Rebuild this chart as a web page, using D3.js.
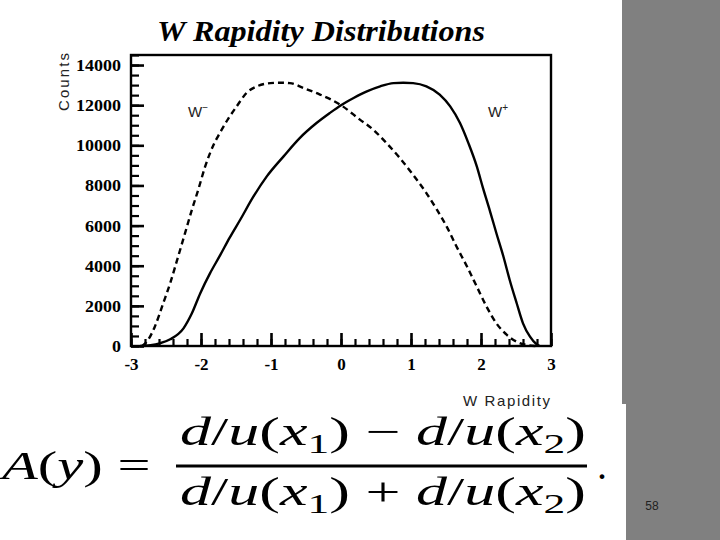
<!DOCTYPE html>
<html>
<head>
<meta charset="utf-8">
<script src="https://cdn.jsdelivr.net/npm/d3@7"></script>
<style>
  html, body { margin: 0; padding: 0; background: #fff; }
  svg { display: block; }
</style>
</head>
<body>
<svg id="chart" width="720" height="540"></svg>
<script>
// ---- data ----
const chartTitle = "W Rapidity Distributions";
const xTickValues = [-3, -2, -1, 0, 1, 2, 3];
const yTickValues = [0, 2000, 4000, 6000, 8000, 10000, 12000, 14000];

// W- (dashed)
const wMinusRapidity = [-2.84, -2.75, -2.66, -2.54, -2.44, -2.35, -2.23, -2.13, -2.04, -1.94, -1.82, -1.73, -1.61, -1.49, -1.35, -1.20, -1.01, -0.87, -0.73, -0.54, -0.30, 0.0, 0.27, 0.46, 0.65, 0.84, 1.03, 1.22, 1.37, 1.51, 1.65, 1.80, 1.94, 2.08, 2.22, 2.37, 2.51, 2.65, 2.79];
const wMinusCounts   = [0, 334, 963, 2130, 3130, 4180, 5600, 6790, 7780, 8950, 10030, 10620, 11330, 11940, 12610, 12940, 13100, 13120, 13100, 12860, 12530, 12000, 11280, 10780, 10110, 9370, 8530, 7620, 6790, 5950, 4960, 3960, 2960, 1960, 1130, 550, 210, 50, 0];

// W+ (solid)
const wPlusRapidity = [-2.87, -2.72, -2.59, -2.44, -2.25, -2.13, -2.01, -1.87, -1.73, -1.59, -1.44, -1.25, -1.06, -0.82, -0.59, -0.35, -0.16, 0.0, 0.18, 0.37, 0.56, 0.75, 0.89, 1.03, 1.22, 1.41, 1.56, 1.70, 1.82, 1.94, 2.03, 2.13, 2.22, 2.32, 2.41, 2.51, 2.60, 2.70, 2.79, 2.84];
const wPlusCounts   = [0, 40, 133, 333, 880, 1630, 2630, 3630, 4500, 5400, 6290, 7450, 8450, 9450, 10360, 11110, 11610, 12000, 12360, 12690, 12940, 13100, 13120, 13100, 12940, 12530, 11940, 11110, 10110, 8950, 7850, 6700, 5620, 4460, 3290, 2130, 1130, 464, 100, 0];

// ---- drawing ----
const svg = d3.select("#chart");
const plot = { left: 131, right: 551, top: 55, bottom: 346 };

const x = d3.scaleLinear().domain([-3, 3]).range([plot.left, plot.right]);
const y = d3.scaleLinear().domain([0, 14500]).range([plot.bottom, plot.top]);

// gray side panel
svg.append("rect").attr("x", 622).attr("y", 0).attr("width", 98).attr("height", 404).attr("fill", "#808080");
svg.append("rect").attr("x", 626).attr("y", 404).attr("width", 94).attr("height", 136).attr("fill", "#808080");
svg.append("text").attr("x", 652).attr("y", 510).attr("text-anchor", "middle")
  .attr("font-family", "Liberation Sans Narrow, Liberation Sans, sans-serif").attr("font-size", 12)
  .attr("fill", "#222").text("58");

// title
svg.append("text").attr("id", "title")
  .attr("x", 321).attr("y", 41).attr("text-anchor", "middle")
  .attr("font-family", "Liberation Serif, Times New Roman, serif")
  .attr("font-weight", "bold").attr("font-style", "italic").attr("font-size", 29)
  .attr("textLength", 328).attr("lengthAdjust", "spacingAndGlyphs")
  .attr("fill", "#000").text(chartTitle);

// minor ticks
const yMinor = d3.range(0, 14501, 500);
const xMinor = d3.range(-3, 3.001, 0.2).map(v => Math.round(v * 10) / 10);

svg.append("g").attr("transform", `translate(${plot.left},0)`)
  .call(d3.axisLeft(y).tickValues(yMinor).tickSize(-8).tickFormat(""))
  .call(g => g.select(".domain").remove())
  .call(g => g.selectAll("line").attr("stroke", "#000").attr("stroke-width", 2.2));

svg.append("g").attr("transform", `translate(0,${plot.bottom})`)
  .call(d3.axisBottom(x).tickValues(xMinor).tickSize(-7).tickFormat(""))
  .call(g => g.select(".domain").remove())
  .call(g => g.selectAll("line").attr("stroke", "#000").attr("stroke-width", 2.2));

// major ticks + labels
svg.append("g").attr("transform", `translate(${plot.left},0)`)
  .call(d3.axisLeft(y).tickValues(yTickValues).tickSize(-13).tickPadding(10).tickFormat(d3.format("d")))
  .call(g => g.select(".domain").remove())
  .call(g => g.selectAll("line").attr("stroke", "#000").attr("stroke-width", 2.6))
  .call(g => g.selectAll("text").attr("fill", "#000")
    .attr("font-family", "Liberation Serif, Times New Roman, serif")
    .attr("font-weight", "bold").attr("font-size", 17)
    .attr("textLength", d => String(d).length * 9).attr("lengthAdjust", "spacingAndGlyphs"));

svg.append("g").attr("transform", `translate(0,${plot.bottom})`)
  .call(d3.axisBottom(x).tickValues(xTickValues).tickSize(-13).tickPadding(6).tickFormat(d3.format("d")))
  .call(g => g.select(".domain").remove())
  .call(g => g.selectAll("line").attr("stroke", "#000").attr("stroke-width", 2.6))
  .call(g => g.selectAll("text").attr("fill", "#000").attr("dy", "1.05em")
    .attr("font-family", "Liberation Serif, Times New Roman, serif")
    .attr("font-weight", "bold").attr("font-size", 17)
    .text(d => d < 0 ? "-" + Math.abs(d) : d));

// frame
svg.append("rect").attr("x", plot.left).attr("y", plot.top)
  .attr("width", plot.right - plot.left).attr("height", plot.bottom - plot.top)
  .attr("fill", "none").attr("stroke", "#000").attr("stroke-width", 2.4);

// curves
const line = d3.line().x(d => x(d[0])).y(d => y(d[1])).curve(d3.curveMonotoneX);
svg.append("path").datum(d3.zip(wMinusRapidity, wMinusCounts))
  .attr("d", line).attr("fill", "none").attr("stroke", "#000")
  .attr("stroke-width", 2.4).attr("stroke-dasharray", "6,4");
svg.append("path").datum(d3.zip(wPlusRapidity, wPlusCounts))
  .attr("d", line).attr("fill", "none").attr("stroke", "#000")
  .attr("stroke-width", 2.4);

// axis titles
svg.append("text").attr("transform", "translate(69,53) rotate(-90)")
  .attr("text-anchor", "end").attr("font-family", "Liberation Sans, Arial, sans-serif")
  .attr("font-size", 15).attr("fill", "#222")
  .attr("textLength", 58).attr("lengthAdjust", "spacing").text("Counts");
svg.append("text").attr("x", 550).attr("y", 406).attr("text-anchor", "end")
  .attr("font-family", "Liberation Sans, Arial, sans-serif")
  .attr("font-size", 15).attr("fill", "#222")
  .attr("textLength", 87).attr("lengthAdjust", "spacing").text("W Rapidity");

// series labels
function seriesLabel(px, py, sup) {
  const t = svg.append("text").attr("x", px).attr("y", py)
    .attr("font-family", "Liberation Sans, Arial, sans-serif").attr("font-size", 15).attr("fill", "#222");
  t.append("tspan").text("W");
  t.append("tspan").attr("font-size", 10).attr("dy", -6).text(sup);
}
seriesLabel(188, 117, "\u2212");
seriesLabel(488, 117, "+");

// formula
const mathFont = "Liberation Serif, Times New Roman, serif";
function mathText(segs, px, py, targetW) {
  const t = svg.append("text").attr("x", px).attr("y", py)
    .attr("font-family", mathFont).attr("font-size", 40).attr("fill", "#000");
  segs.forEach(s => {
    const sp = t.append("tspan").text(s.t);
    if (s.i) sp.attr("font-style", "italic");
    if (s.sub) sp.attr("font-size", 28).attr("dy", 8);
    if (s.back) sp.attr("dy", -8);
  });
  if (targetW) {
    const w = t.node().getBBox().width;
    const k = targetW / w;
    t.attr("transform", `translate(${px},0) scale(${k},1) translate(${-px},0)`);
  }
  return t;
}
mathText([{t:"A", i:1}, {t:"("}, {t:"y", i:1}, {t:")"}, {t:" = "}], 2, 479, 153);
const frac = (op) => [
  {t:"d", i:1}, {t:"/"}, {t:"u", i:1}, {t:"("}, {t:"x", i:1}, {t:"1", sub:1}, {t:")", back:1},
  {t:" " + op + " "},
  {t:"d", i:1}, {t:"/"}, {t:"u", i:1}, {t:"("}, {t:"x", i:1}, {t:"2", sub:1}, {t:")", back:1}
];
mathText(frac("\u2212"), 180, 445, 406);
mathText(frac("+"), 180, 505, 406);
svg.append("line").attr("x1", 176).attr("x2", 587).attr("y1", 466).attr("y2", 466)
  .attr("stroke", "#000").attr("stroke-width", 3);
mathText([{t:"."}], 597, 479);
</script>
</body>
</html>
